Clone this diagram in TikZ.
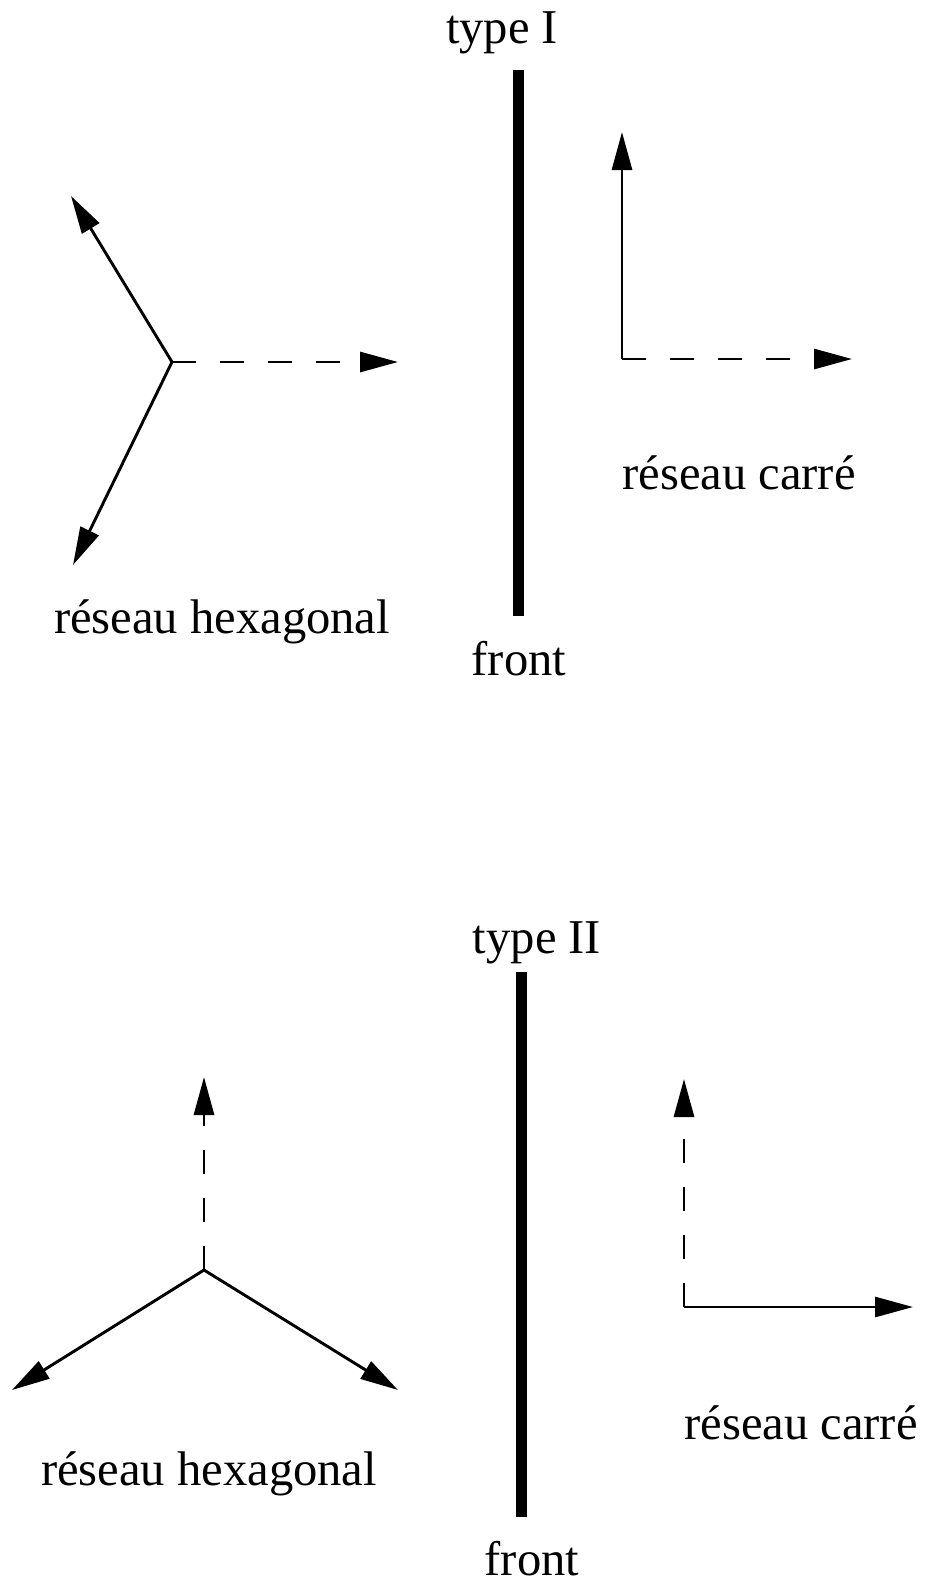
\documentclass[tikz,border=0pt]{standalone}
\usepackage{fontspec}
\setmainfont{Liberation Serif}
\usetikzlibrary{arrows.meta,positioning}
\tikzset{
  vec/.style={line width=2.9pt,-{Triangle[length=38pt,width=20pt]}},
  vecdash/.style={vec,dash pattern=on 24pt off 24pt},
  frontline/.style={line width=11pt},
  lbl/.style={font=\fontsize{48.6}{58}\selectfont,inner sep=0pt,anchor=base},
}

\begin{document}
\begin{tikzpicture}[x=1pt,y=-1pt]
  \useasboundingbox (0,0) rectangle (925,1583);

  % type I
  \coordinate (fItop) at (518,70);
  \coordinate (fIbot) at (518,616);
  \draw[frontline] (fItop) -- (fIbot);
  \node[lbl] (typeI) at (502,43) {type I};
  \node[lbl] (frontI) at (519,675) {front};

  \coordinate (hexI) at (172,362);
  \coordinate (hexIa) at (71,196);
  \coordinate (hexIb) at (73,565);
  \coordinate (hexIc) at (398,362);
  \draw[vec] (hexI) -- (hexIa);
  \draw[vec] (hexI) -- (hexIb);
  \draw[vecdash] (hexI) -- (hexIc);
  \node[lbl] (hexlblI) at (222,633) {réseau hexagonal};

  \coordinate (sqI) at (622,359);
  \coordinate (sqIa) at (622,132);
  \coordinate (sqIb) at (852,359);
  \draw[vec] (sqI) -- (sqIa);
  \draw[vecdash] (sqI) -- (sqIb);
  \node[lbl] (sqlblI) at (739,489) {réseau carré};

  % type II
  \coordinate (fIItop) at (521,972);
  \coordinate (fIIbot) at (521,1517);
  \draw[frontline] (fIItop) -- (fIIbot);
  \node[lbl] (typeII) at (537,953) {type II};
  \node[lbl] (frontII) at (532,1575) {front};

  \coordinate (hexII) at (204,1270);
  \coordinate (hexIIa) at (204,1077);
  \coordinate (hexIIb) at (12,1390);
  \coordinate (hexIIc) at (398,1390);
  \draw[vecdash] (hexII) -- (hexIIa);
  \draw[vec] (hexII) -- (hexIIb);
  \draw[vec] (hexII) -- (hexIIc);
  \node[lbl] (hexlblII) at (209,1485) {réseau hexagonal};

  \coordinate (sqII) at (684,1307);
  \coordinate (sqIIa) at (684,1079);
  \coordinate (sqIIb) at (913,1307);
  \draw[vecdash] (sqII) -- (sqIIa);
  \draw[vec] (sqII) -- (sqIIb);
  \node[lbl] (sqlblII) at (801,1439) {réseau carré};
\end{tikzpicture}
\end{document}
